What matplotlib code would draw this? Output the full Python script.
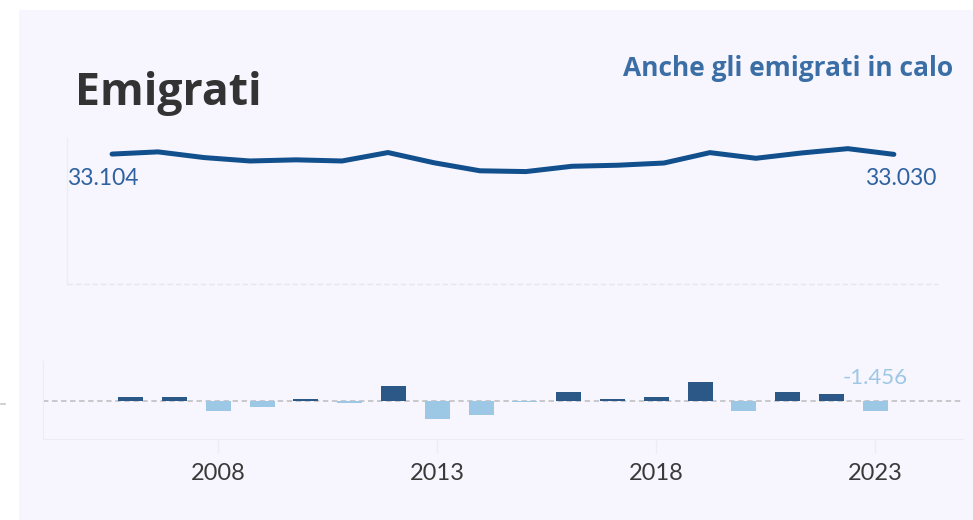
import matplotlib
matplotlib.use("Agg")
import matplotlib.pyplot as plt
from matplotlib.patches import Rectangle

# emigrati per anno (line) and annual change (bars)
years = [2006, 2007, 2008, 2009, 2010, 2011, 2012, 2013, 2014,
         2015, 2016, 2017, 2018, 2019, 2020, 2021, 2022, 2023]
emigrati = [33104, 33664, 32214, 31344, 31634, 31344, 33494, 30894, 28844,
            28644, 29994, 30264, 30824, 33474, 32034, 33394, 34484, 33030]
variazione = [580, 560, -1450, -870, 290, -290, 2200, -2600, -2050,
              -200, 1350, 270, 560, 2700, -1440, 1360, 1090, -1456]
tick_years = [2008, 2013, 2018, 2023]

BG = "#f7f6fe"
LINE = "#124f8d"
POS = "#2b5886"
NEG = "#9dc8e5"
FONT = ["Lato", "DejaVu Sans"]

W, H = 973, 520
fig = plt.figure(figsize=(W / 100, H / 100), dpi=100, facecolor="white")
fig.patches.append(Rectangle((19 / W, 0), 1 - 19 / W, 1 - 10 / H,
                             transform=fig.transFigure, facecolor=BG,
                             edgecolor="none", zorder=-5))


def fx(px):
    return px / W


def fy(py):
    return 1 - py / H


def it(v):
    return f"{v:,}".replace(",", ".")


# --- top: line ---
ax = fig.add_axes([fx(67), fy(284), fx(938) - fx(67), fy(138) - fy(284)])
ax.set_facecolor(BG)
ax.plot(years, emigrati, color=LINE, lw=3.6, solid_capstyle="round",
        solid_joinstyle="round", zorder=3)
ax.set_xlim(2005.02, 2023.96)
ax.set_ylim(0, 37200)
ax.set_xticks([]); ax.set_yticks([])
for s in ["top", "right", "bottom"]:
    ax.spines[s].set_visible(False)
ax.spines["left"].set_color("#ececf2"); ax.spines["left"].set_linewidth(1)
ax.axhline(0, color="#e6e6ec", lw=1, ls=(0, (4, 2)), clip_on=False)
ax.annotate(it(emigrati[0]), (0, 0.795), xycoords="axes fraction",
            ha="left", va="top", fontsize=16.5, color="#2f62a0", family=FONT)
ax.annotate(it(emigrati[-1]), (0.998, 0.795), xycoords="axes fraction",
            ha="right", va="top", fontsize=16.5, color="#2f62a0", family=FONT)

# --- bottom: annual change bars ---
bx = fig.add_axes([fx(43), fy(439), fx(963) - fx(43), fy(361) - fy(439)])
bx.set_facecolor(BG)
cols = [POS if v >= 0 else NEG for v in variazione]
bx.bar(years, variazione, width=0.57, color=cols, zorder=3)
bx.axhline(0, color="#c4c4c8", lw=1.3, ls=(0, (3, 2)), zorder=2)
bx.set_xlim(2004.0, 2025.0)
bx.set_ylim(-5530, 5820)
bx.set_yticks([])
bx.set_xticks(tick_years)
bx.set_xticklabels([str(y) for y in tick_years], fontsize=17, color="#3a3a3a",
                   family=FONT)
bx.tick_params(axis="x", length=10, width=1, color="#ececf2", pad=7)
for s in ["top", "right"]:
    bx.spines[s].set_visible(False)
bx.spines["left"].set_color("#ececf2")
bx.spines["bottom"].set_color("#ececf2")
bx.annotate(it(variazione[-1]), (years[-1], 0),
            xytext=(0, 9), textcoords="offset points", ha="center", va="bottom",
            fontsize=16, color=NEG, family=FONT)

# small stray axis tick at the far left
fig.add_artist(plt.Line2D([fx(1), fx(5)], [fy(404), fy(404)], color="#c8c8c8", lw=1.2))

fig.text(fx(75), fy(93), "Emigrati", fontsize=32, fontweight="bold", color="#333333",
         ha="left", va="center", family=["Open Sans", "DejaVu Sans"])
fig.text(fx(953), fy(68), "Anche gli emigrati in calo", fontsize=19, fontweight="bold",
         color="#3b6ea5", ha="right", va="center", family=["Open Sans", "DejaVu Sans"])

fig.savefig("out.png", dpi=100, facecolor="white")
